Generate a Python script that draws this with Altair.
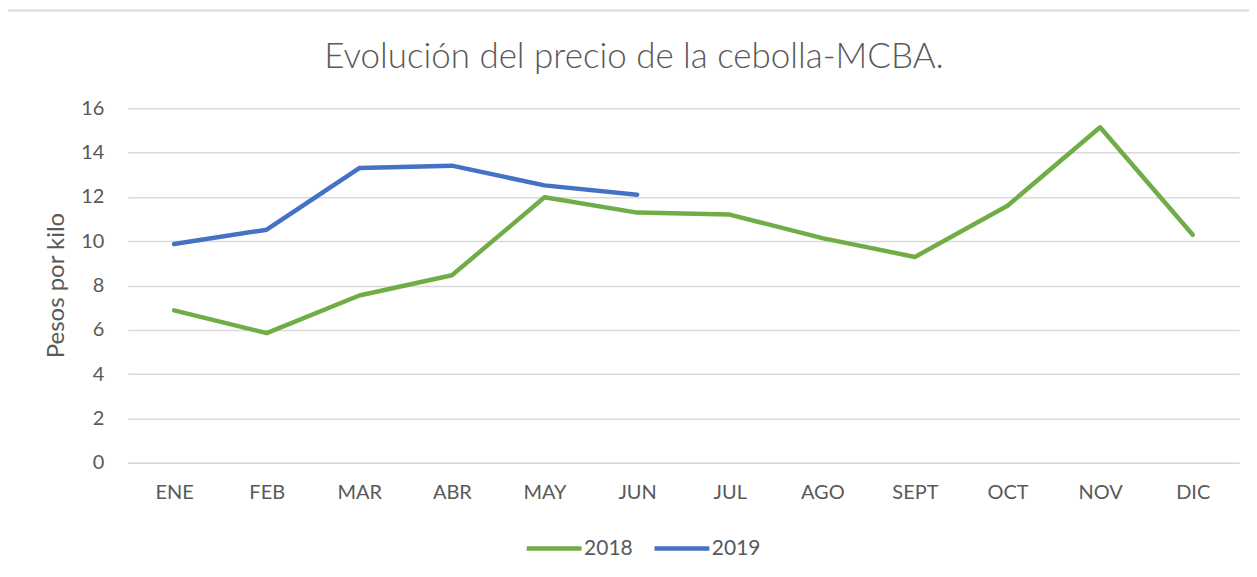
import altair as alt
import pandas as pd

months = ["ENE", "FEB", "MAR", "ABR", "MAY", "JUN", "JUL", "AGO", "SEPT", "OCT", "NOV", "DIC"]
v2018 = [6.88, 5.85, 7.55, 8.46, 11.98, 11.29, 11.20, 10.14, 9.29, 11.60, 15.14, 10.29]
months2019 = ["ENE", "FEB", "MAR", "ABR", "MAY", "JUN"]
v2019 = [9.87, 10.52, 13.30, 13.41, 12.52, 12.10]
title_text = "Evolución del precio de la cebolla-MCBA."

rows = [{"mes": m, "valor": v, "serie": "2018"} for m, v in zip(months, v2018)]
rows += [{"mes": m, "valor": v, "serie": "2019"} for m, v in zip(months2019, v2019)]
df = pd.DataFrame(rows)

FONT = "Lato"
TXT = "#595959"
GRID = "#d9d9d9"

lines = alt.Chart(df).mark_line(strokeWidth=4.5, strokeCap="round", strokeJoin="round").encode(
    x=alt.X("mes:N", sort=months, scale=alt.Scale(type="point", padding=0.5, domain=months),
            axis=alt.Axis(title=None, labelAngle=0, ticks=False, grid=False, domain=True,
                          domainColor=GRID, domainWidth=1.5, labelFontSize=20, labelColor=TXT,
                          labelFont=FONT, labelPadding=20)),
    y=alt.Y("valor:Q", scale=alt.Scale(domain=[0, 16], nice=False),
            axis=alt.Axis(title="Pesos por kilo", values=[0, 2, 4, 6, 8, 10, 12, 14, 16],
                          ticks=False, domain=False, grid=True, gridColor=GRID, gridWidth=1.5,
                          labelFontSize=20, labelColor=TXT, labelFont=FONT, labelPadding=24,
                          titleFontSize=24, titleFont=FONT, titleFontWeight="normal",
                          titleColor=TXT, titleAngle=270, titleX=-71, titleY=177,
                          titleAlign="center", titleBaseline="middle")),
    color=alt.Color("serie:N",
                    scale=alt.Scale(domain=["2018", "2019"], range=["#70ad47", "#4472c4"]),
                    legend=alt.Legend(title=None, orient="none", legendX=397, legendY=411,
                                      direction="horizontal", symbolType="stroke",
                                      symbolSize=3025, symbolStrokeWidth=4.5,
                                      labelFontSize=21, labelColor=TXT, labelFont=FONT,
                                      labelOffset=0, columnPadding=12)),
)

border = alt.Chart(pd.DataFrame({"a": [0]})).mark_rect(
    fill=None, stroke=GRID, strokeWidth=2
).encode(
    x=alt.value(-121), x2=alt.value(1300), y=alt.value(-98), y2=alt.value(700)
)

title = alt.Chart(pd.DataFrame({"t": [title_text]})).mark_text(
    font=FONT, fontSize=35, fontWeight=300, color=TXT, align="center", baseline="alphabetic"
).encode(
    text="t:N", x=alt.value(507), y=alt.value(-40)
)

chart = alt.layer(border, lines, title).properties(
    width=1113,
    height=355,
    autosize=alt.AutoSizeParams(type="none"),
    padding={"left": 120, "top": 100, "right": 10, "bottom": 100},
).configure(background="white").configure_view(strokeWidth=0)

chart.save("out.html", embed_options={"renderer": "svg", "actions": False})
